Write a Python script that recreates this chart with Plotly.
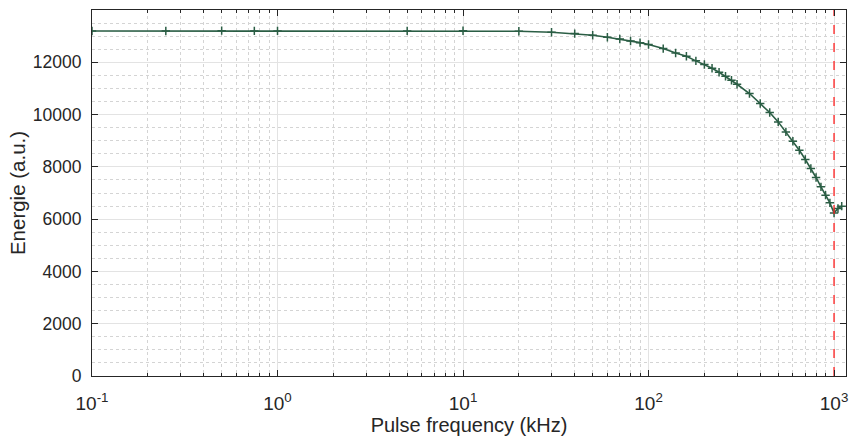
import numpy as np
import plotly.graph_objects as go

freq_khz = [0.1, 0.25, 0.5, 0.75, 1, 5, 10, 20, 30, 40, 50, 60, 70, 80, 90,
            100, 120, 140, 160, 180, 200, 220, 240, 260, 280, 300,
            350, 400, 450, 500, 550, 600, 650, 700, 750, 800, 850, 900, 950,
            1000, 1050, 1100]
energie = [13195, 13195, 13210, 13200, 13200, 13200, 13205, 13190, 13150, 13098, 13035, 12958, 12890, 12815, 12752,
           12678, 12524, 12357, 12230, 12055, 11913, 11772, 11619, 11466, 11313, 11160,
           10805, 10423, 10079, 9720, 9337, 8982, 8638, 8282, 7938, 7594, 7235, 6918, 6624,
           6235, 6409, 6497]
marker_freq = 1000
x_range_khz = [0.1, 1160]
y_range = [0, 14000]
x_major = [0.1, 1, 10, 100, 1000]
x_major_text = ["10<sup>-1</sup>", "10<sup>0</sup>", "10<sup>1</sup>", "10<sup>2</sup>", "10<sup>3</sup>"]
y_major = [0, 2000, 4000, 6000, 8000, 10000, 12000]
y_major_text = ["0", "2000", "4000", "6000", "8000", "10000", "12000"]

x_minor = [m * 10.0 ** d for d in range(-1, 3) for m in range(2, 10)]
y_minor = [v for v in range(500, 14000, 500) if v % 2000 != 0]

line_col = "#2b5e45"
fig = go.Figure()
fig.add_trace(go.Scatter(
    x=freq_khz, y=energie, mode="lines+markers",
    line=dict(color=line_col, width=1.6),
    marker=dict(symbol="cross-thin", size=6, line=dict(color=line_col, width=1.5), color=line_col),
    showlegend=False, hoverinfo="x+y"))
fig.add_trace(go.Scatter(
    x=[marker_freq, marker_freq], y=y_range, mode="lines",
    line=dict(color="#ff2020", width=1.3, dash="dash"),
    showlegend=False, hoverinfo="skip"))

axis_col = "#262626"
font = dict(family="Liberation Sans, Arial, sans-serif", size=18, color=axis_col)
fig.update_layout(
    width=851, height=440,
    margin=dict(l=92, r=3, t=9.5, b=64),
    plot_bgcolor="white", paper_bgcolor="white",
    font=font,
    xaxis=dict(
        type="log", range=[np.log10(x_range_khz[0]), np.log10(x_range_khz[1])],
        tickmode="array", tickvals=x_major, ticktext=x_major_text,
        ticks="inside", ticklen=6, tickwidth=1, tickcolor=axis_col,
        showline=True, linecolor=axis_col, linewidth=1, mirror="ticks",
        showgrid=True, gridcolor="#e3e3e3", gridwidth=1,
        zeroline=False,
        tickfont=dict(size=19),
        ticklabelstandoff=10,
        title=dict(text="Pulse frequency (kHz)", font=dict(size=20), standoff=4),
        minor=dict(tickmode="array", tickvals=x_minor, ticks="inside", ticklen=3,
                   tickcolor=axis_col, showgrid=True, gridcolor="#d4d4d4",
                   griddash="dot", gridwidth=1),
    ),
    yaxis=dict(
        range=y_range, tickmode="array", tickvals=y_major, ticktext=y_major_text,
        ticks="inside", ticklen=6, tickwidth=1, tickcolor=axis_col,
        showline=True, linecolor=axis_col, linewidth=1, mirror="ticks",
        showgrid=True, gridcolor="#e3e3e3", gridwidth=1,
        zeroline=False,
        tickfont=dict(size=17.5),
        ticklabelstandoff=6,
        title=dict(text="Energie (a.u.)", font=dict(size=20.5), standoff=1),
        minor=dict(tickmode="array", tickvals=y_minor, ticks="", showgrid=True,
                   gridcolor="#d4d4d4", griddash="dot", gridwidth=1),
    ),
)
fig.write_html("out.html")
